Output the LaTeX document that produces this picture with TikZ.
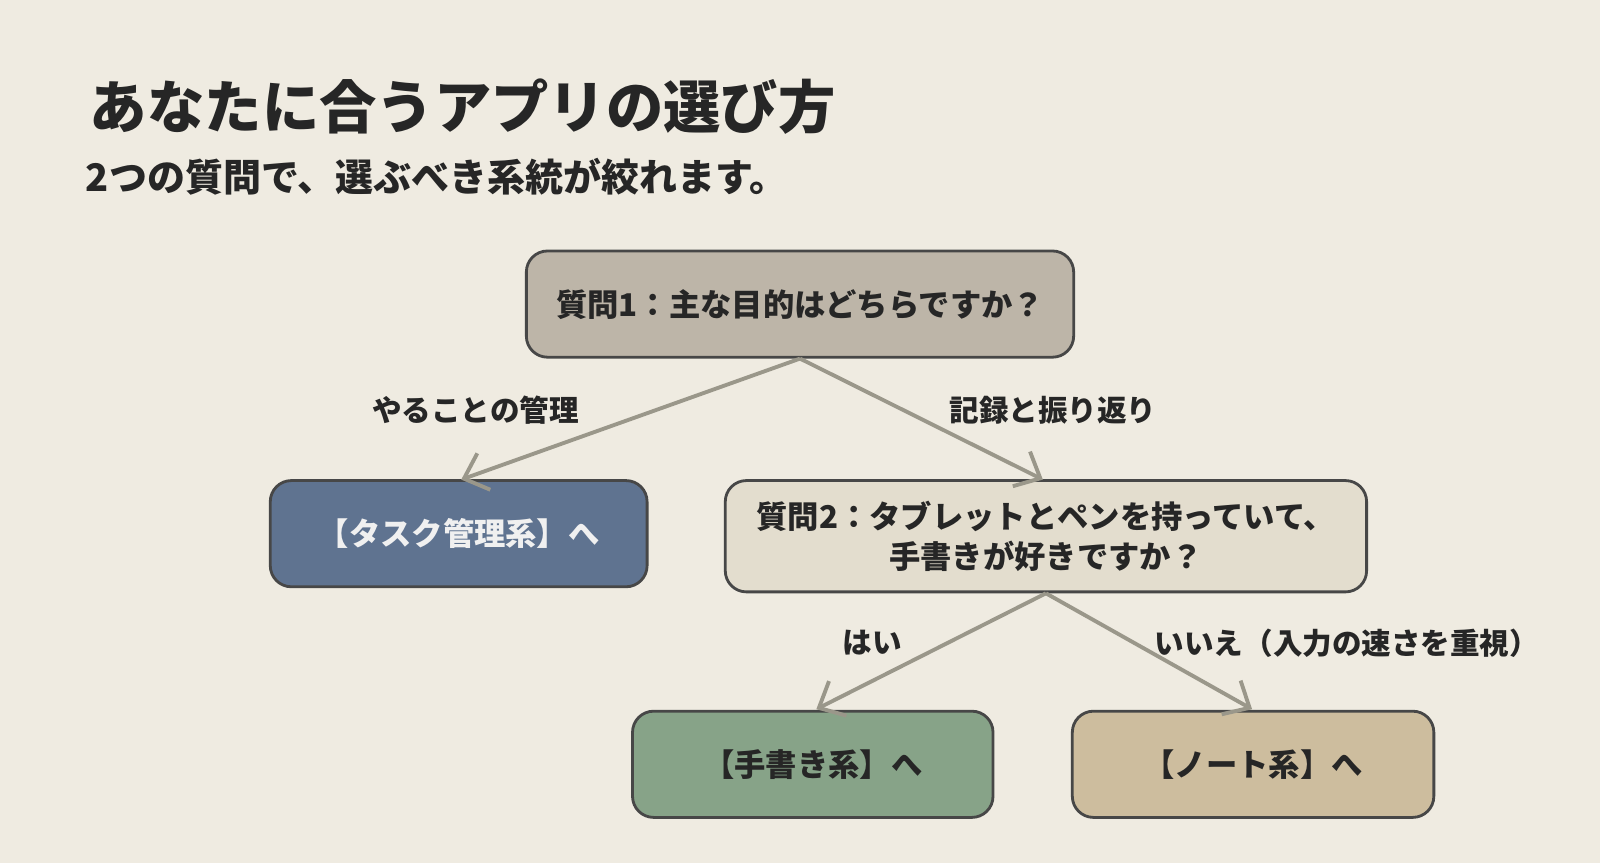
\documentclass[tikz,border=0pt]{standalone}
\usepackage{fontspec}
\setmainfont{Noto Sans CJK JP}
\usetikzlibrary{arrows.meta}
\definecolor{bg}{HTML}{EFEBE1}
\definecolor{txt}{HTML}{262626}
\definecolor{edge}{HTML}{9A978A}
\definecolor{cq1}{HTML}{BDB5A8}
\definecolor{ctask}{RGB}{95,115,144}
\definecolor{cq2}{RGB}{227,221,206}
\definecolor{chand}{RGB}{135,163,136}
\definecolor{cnote}{RGB}{205,189,158}
\begin{document}
\begin{tikzpicture}[x=0.0102cm,y=-0.0102cm,
  box/.style={draw=txt!85,line width=0.8pt,rounded corners=6pt,inner sep=0pt,font=\fontsize{8.9pt}{11.3pt}\selectfont\bfseries,text=txt,align=center},
  conn/.style={draw=edge,line width=1.1pt,-{Straight Barb[length=6pt,width=11pt]}},
  lab/.style={font=\fontsize{8.4pt}{10pt}\selectfont\bfseries,text=txt}]
\fill[bg] (0,0) rectangle (1568,846);
\node[anchor=base west,font=\fontsize{16.3pt}{19pt}\selectfont\bfseries,text=txt] (title) at (76,126) {あなたに合うアプリの選び方};
\node[anchor=base west,font=\fontsize{10.8pt}{13pt}\selectfont\bfseries,text=txt] (sub) at (72,188) {2つの質問で、選ぶべき系統が絞れます。};
\node[box,fill=cq1,minimum width=5.467cm,minimum height=1.061cm] (q1) at (784,298) {質問1：主な目的はどちらですか？};
\node[box,fill=ctask,text=white!94!black,minimum width=3.764cm,minimum height=1.061cm] (task) at (449.5,523) {【タスク管理系】へ};
\node[box,fill=cq2,minimum width=6.406cm,minimum height=1.112cm] (q2) at (1025,525.5) {質問2：タブレットとペンを持っていて、\\手書きが好きですか？};
\node[box,fill=chand,minimum width=3.601cm,minimum height=1.061cm] (hand) at (796.5,749) {【手書き系】へ};
\node[box,fill=cnote,minimum width=3.611cm,minimum height=1.061cm] (note) at (1228,749) {【ノート系】へ};
\draw[conn] (q1.south) -- (452,470);
\draw[conn] (q1.south) -- (1022,470);
\draw[conn] (q2.south) -- (800,695);
\draw[conn] (q2.south) -- (1227,695);
\node[lab] (l1) at (466,402) {やることの管理};
\node[lab] (l2) at (1032,402) {記録と振り返り};
\node[lab] (l3) at (855,630) {はい};
\node[lab] (l4) at (1320,630) {いいえ（入力の速さを重視）};
\end{tikzpicture}
\end{document}
